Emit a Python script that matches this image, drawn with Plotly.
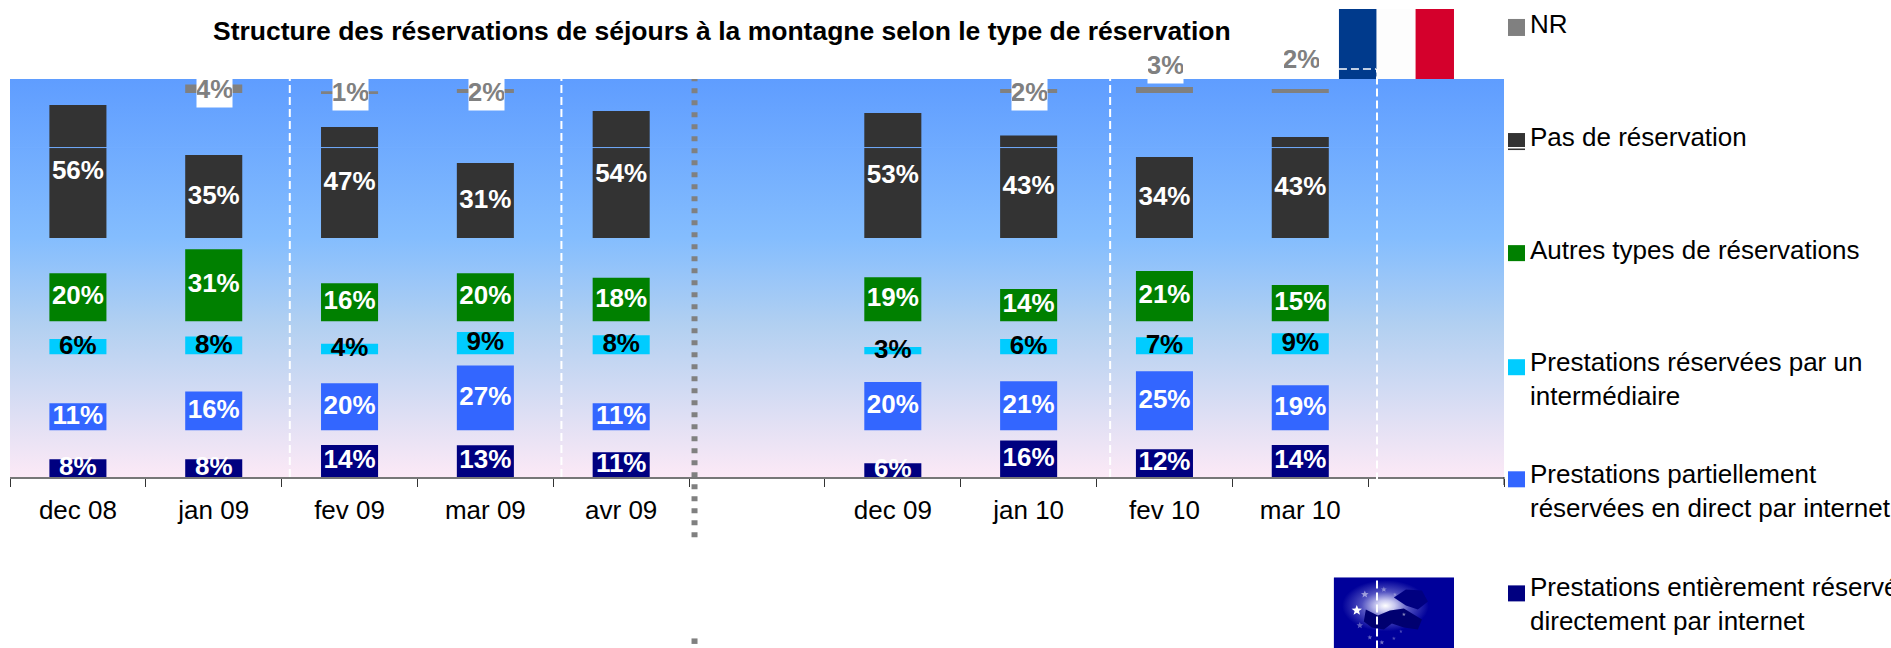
import math
import plotly.graph_objects as go

categories = ["dec 08", "jan 09", "fev 09", "mar 09", "avr 09", " ",
              "dec 09", "jan 10", "fev 10", "mar 10", "  "]

# Values in % (None = no bar)
directes   = [7.5, 7.5, 13.5, 13.4, 10.5, None, 5.8, 15.5, 11.7, 13.5, None]
partielles = [11.4, 16.4, 19.9, 27.4, 11.4, None, 20.4, 20.8, 25.0, 19.1, None]
intermed   = [6.4, 7.5, 4.4, 9.4, 8.0, None, 3.0, 6.4, 7.2, 8.9, None]
autres     = [20.3, 30.5, 16.1, 20.3, 18.4, None, 18.6, 13.6, 21.2, 15.3, None]
pas_resa   = [56.4, 35.2, 47.0, 31.8, 53.8, None, 53.0, 43.4, 34.3, 42.8, None]
nr         = [None, 3.6, 0.7, 1.7, None, None, None, 1.7, 2.5, 1.7, None]

# Printed labels
lab_directes   = ["8%", "8%", "14%", "13%", "11%", "", "6%", "16%", "12%", "14%", ""]
lab_partielles = ["11%", "16%", "20%", "27%", "11%", "", "20%", "21%", "25%", "19%", ""]
lab_intermed   = ["6%", "8%", "4%", "9%", "8%", "", "3%", "6%", "7%", "9%", ""]
lab_autres     = ["20%", "31%", "16%", "20%", "18%", "", "19%", "14%", "21%", "15%", ""]
lab_pas_resa   = ["56%", "35%", "47%", "31%", "54%", "", "53%", "43%", "34%", "43%", ""]
lab_nr         = ["", "4%", "1%", "2%", "", "", "", "2%", "3%", "2%", ""]

legend_labels = ["NR", "Pas de réservation", "Autres types de réservations",
                 "Prestations réservées par un<br>intermédiaire",
                 "Prestations partiellement<br>réservées en direct par internet",
                 "Prestations entièrement réservées<br>directement par internet"]

W, H = 1891, 648
L, R, T, B = 10.4, 1504, 79, 476.7
PX = 2.36               # pixels per % point
YMAX = (B - T) / PX
FONT = "Liberation Sans, Arial, sans-serif"

# Baselines of the separated panels, in axis units
panels = [
    ("Prestations entièrement", directes, lab_directes, 0, "#000080", "white"),
    ("Prestations partiellement", partielles, lab_partielles, (B - 430) / PX, "#3366FF", "white"),
    ("Intermédiaire", intermed, lab_intermed, (B - 354) / PX, "#00CCFF", "black"),
    ("Autres", autres, lab_autres, (B - 321) / PX, "#008000", "white"),
    ("Pas de réservation", pas_resa, lab_pas_resa, (B - 238) / PX, "#333333", "white"),
    ("NR", nr, lab_nr, (B - 93) / PX, "#808080", "#808080"),
]

fig = go.Figure()
for name, vals, labs, base, col, tcol in panels:
    fig.add_trace(go.Bar(x=categories, y=vals, base=base, name=name, width=0.42,
                         marker=dict(color=col, line=dict(width=0)), showlegend=False,
                         hoverinfo="x+y"))
for name, vals, labs, base, col, tcol in panels[:-1]:
    xs = [c for c, v in zip(categories, vals) if v is not None]
    ys = [base + v / 2 - 0.3 for v in vals if v is not None]
    ts = [t for t, v in zip(labs, vals) if v is not None]
    fig.add_trace(go.Scatter(x=xs, y=ys, mode="text", text=ts, showlegend=False, hoverinfo="skip",
                             textposition="middle center",
                             textfont=dict(family=FONT, size=26, color=tcol, weight="bold")))

def fx(x): return (x - L) / (R - L)
def fy(y): return (B - y) / (B - T)

shapes = []
annotations = []

# NR labels with their white boxes
nr_label_y = {1: 89, 2: 92, 3: 92, 7: 92, 8: 65, 9: 59}
for i, yy in nr_label_y.items():
    annotations.append(dict(x=categories[i], xref="x", y=fy(yy), yref="paper", text=lab_nr[i], xshift=1,
                            showarrow=False, xanchor="center", yanchor="middle", bgcolor="white",
                            width=35, height=36, borderpad=0, align="center", valign="middle",
                            font=dict(family=FONT, size=26, color="#808080", weight="bold")))

# French flag
for x0, x1, c in [(1339, 1376.7, "#003A8C"), (1376.7, 1415.6, "#FDFDFD"), (1415.6, 1454, "#D4002C")]:
    shapes.append(dict(type="rect", xref="paper", yref="paper", x0=fx(x0), x1=fx(x1), y0=1, y1=fy(9),
                       fillcolor=c, line=dict(width=0), layer="below"))

# light streak through the dark bars
shapes.append(dict(type="line", xref="paper", yref="paper", x0=0, x1=1, y0=fy(147.5), y1=fy(147.5),
                   line=dict(color="#72ADFF", width=1), layer="above"))

# white dashed separators
for x in [1.56, 3.56, 7.6]:
    shapes.append(dict(type="line", xref="x", yref="paper", x0=x, x1=x, y0=0, y1=1,
                       line=dict(color="white", width=2, dash="8px,4px"), layer="above"))
shapes.append(dict(type="line", xref="x", yref="paper", x0=9.565, x1=9.565, y0=fy(648), y1=fy(69),
                   line=dict(color="white", width=2, dash="8px,4px"), layer="above"))
shapes.append(dict(type="line", xref="paper", yref="paper", x0=fx(1339), x1=fx(1376), y0=fy(69), y1=fy(69),
                   line=dict(color="white", width=1.5, dash="8px,4px"), layer="above"))

# closing tick of the axis
shapes.append(dict(type="line", xref="paper", yref="paper", x0=1, x1=1, y0=fy(484.7), y1=0,
                   line=dict(color="#333333", width=1)))

# grey dotted separator
shapes.append(dict(type="line", xref="x", yref="paper", x0=4.54, x1=4.54, y0=fy(537), y1=1,
                   line=dict(color="#808080", width=6, dash="5px,7px"), layer="above"))
shapes.append(dict(type="line", xref="x", yref="paper", x0=4.54, x1=4.54, y0=fy(643.5), y1=fy(638),
                   line=dict(color="#808080", width=6), layer="above"))

# Legend
leg_cols = ["#808080", "#333333", "#008000", "#00CCFF", "#3366FF", "#000080"]
leg_sq = [(19, 36), (133, 150), (245, 261), (359, 375), (471, 487), (585, 601)]
leg_txt = [24, 137, 250, 378.5, 491, 604]
for t, c, (y0, y1), ty in zip(legend_labels, leg_cols, leg_sq, leg_txt):
    shapes.append(dict(type="rect", xref="paper", yref="paper", x0=fx(1508), x1=fx(1525), y0=fy(y1), y1=fy(y0),
                       fillcolor=c, line=dict(width=0)))
    annotations.append(dict(x=fx(1528), xref="paper", y=fy(ty), yref="paper", text=t, showarrow=False,
                            xanchor="left", yanchor="middle", align="left",
                            font=dict(family=FONT, size=26, color="black")))
shapes.append(dict(type="line", xref="paper", yref="paper", x0=fx(1508), x1=fx(1525), y0=fy(147.7), y1=fy(147.7),
                   line=dict(color="white", width=1.5)))

# Title
annotations.append(dict(x=fx(722.5), xref="paper", y=fy(31), yref="paper", showarrow=False,
                        text="Structure des réservations de séjours à la montagne selon le type de réservation",
                        xanchor="center", yanchor="middle",
                        font=dict(family=FONT, size=26.5, color="black", weight="bold")))

def star(cx, cy, r, op):
    pts = []
    for k in range(10):
        a = -math.pi / 2 + k * math.pi / 5
        rr = r if k % 2 == 0 else r * 0.42
        pts.append(f"{cx + rr * math.cos(a):.1f},{cy + rr * math.sin(a):.1f}")
    return f"<polygon points='{' '.join(pts)}' fill='white' fill-opacity='{op}'/>"

eu_stars = [(23, 33, 5.5, 1), (31, 17, 4, 0.5), (50, 12, 3, 0.4), (26, 48, 3.5, 0.35), (36, 60, 2.5, 0.4),
            (48, 65, 2.5, 0.45), (60, 61, 2, 0.3), (67, 54, 1.8, 0.3), (70, 37, 2, 0.5), (61, 17, 2, 0.3)]

gradient = ("data:image/svg+xml;utf8,<svg xmlns='http://www.w3.org/2000/svg' width='100' height='100' preserveAspectRatio='none'>"
            "<defs><linearGradient id='g' x1='0' y1='0' x2='0' y2='1'>"
            "<stop offset='0' stop-color='%235F9DFF'/><stop offset='0.4' stop-color='%2384BDFE'/>"
            "<stop offset='0.62' stop-color='%23B2D0F1'/><stop offset='1' stop-color='%23FCE9F6'/>"
            "</linearGradient></defs><rect width='100' height='100' fill='url(%23g)'/></svg>")
eu_flag = ("data:image/svg+xml;utf8,<svg xmlns='http://www.w3.org/2000/svg' width='120' height='71' viewBox='0 0 120 71' preserveAspectRatio='none'>"
           "<defs><radialGradient id='e' cx='0.43' cy='0.4' r='0.36'>"
           "<stop offset='0' stop-color='white'/><stop offset='0.22' stop-color='%23C8C8F0'/>"
           "<stop offset='0.55' stop-color='%235050C0'/><stop offset='1' stop-color='%2300009A'/></radialGradient></defs>"
           "<rect width='120' height='71' fill='%2300009A'/><rect width='120' height='71' fill='url(%23e)'/>"
           "<path d='M32 32 L44 38 L56 33 L70 31 L88 42 L84 52 L70 50 L58 46 L50 52 L38 50 L30 44 Z' fill='%23000070'/>"
           "<path d='M60 20 L72 12 L88 13 L94 24 L84 32 L72 28 L66 24 Z' fill='%23000080'/>"
           + "".join(star(*s) for s in eu_stars) + "</svg>")
images = [
    dict(source=gradient, xref="paper", yref="paper", x=0, y=1, sizex=1, sizey=1,
         sizing="stretch", xanchor="left", yanchor="top", layer="below"),
    dict(source=eu_flag, xref="paper", yref="paper", x=fx(1333.8), y=fy(577), sizex=fx(1454) - fx(1333.8),
         sizey=fy(577) - fy(648), sizing="stretch", xanchor="left", yanchor="top", layer="above"),
]

fig.update_layout(
    width=W, height=H, autosize=False, barmode="overlay",
    margin=dict(l=L, r=W - R, t=T, b=H - B, pad=0),
    paper_bgcolor="white", plot_bgcolor="rgba(0,0,0,0)",
    shapes=shapes, annotations=annotations, images=images,
    font=dict(family=FONT),
    xaxis=dict(type="category", categoryorder="array", categoryarray=categories, tickson="boundaries",
               range=[-0.5, 10.5], ticks="outside", ticklen=8, tickwidth=1, tickcolor="#333333",
               showline=True, linecolor="#777777", linewidth=2, showgrid=False, zeroline=False,
               tickfont=dict(family=FONT, size=26, color="black"), ticklabelstandoff=9, fixedrange=True),
    yaxis=dict(range=[0, YMAX], visible=False, showgrid=False, zeroline=False, fixedrange=True),
)
fig.write_html("out.html", config=dict(displayModeBar=False),
               post_script="document.body.style.margin='0';document.body.style.overflow='hidden';")
